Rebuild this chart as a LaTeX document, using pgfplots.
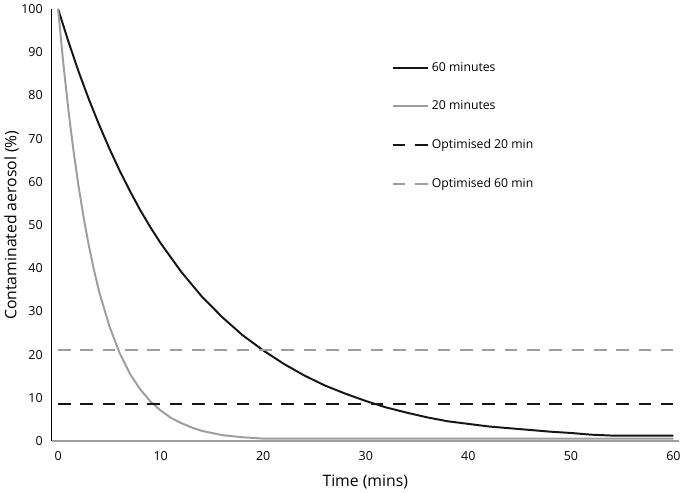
\documentclass[border=0pt]{standalone}
\usepackage{pgfplots}
\pgfplotsset{compat=1.18}
\usepackage{fontspec}
\setmainfont{Open Sans}
\definecolor{cblack}{RGB}{22,22,22}
\definecolor{cgray}{RGB}{158,158,158}
\begin{document}
\begin{tikzpicture}
\begin{axis}[
  scale only axis,
  width=477pt, height=329pt,
  xmin=-0.6, xmax=60.5, ymin=0, ymax=100,
  axis x line=bottom, axis y line=left,
  x axis line style={-, draw=cgray, line width=1.2pt},
  y axis line style={-, draw=black, line width=0.7pt},
  xtick={0,10,...,60}, ytick={0,10,...,100},
  major tick length=0pt,
  tick label style={font=\fontsize{9.5}{11}\selectfont},
  /pgf/number format/assume math mode=true,
  yticklabel style={xshift=-3.5pt},
  xticklabel style={yshift=-4pt},
  xlabel={Time (mins)}, ylabel={Contaminated aerosol (\%)},
  label style={font=\fontsize{12}{14}\selectfont},
  xlabel style={yshift=-4pt},
  ylabel style={yshift=-5pt},
  legend cell align=left,
  legend style={draw=none, fill=none, at={(0.542,0.883)}, anchor=north west,
    font=\fontsize{9.3}{11}\selectfont, row sep=17pt, inner sep=0pt},
  legend image code/.code={\draw[#1] (0cm,0cm) -- (0.95cm,0cm);},
]
\addplot[cblack, line width=1.5pt] coordinates {
(0,100) (1,92.5) (2,85.5) (3,79.1) (4,73.2) (5,67.7) (6,62.6) (7,57.9) (8,53.5) (9,49.5) (10,45.8)
(12,39.2) (14,33.5) (16,28.7) (18,24.5) (20,21.0) (22,17.9) (24,15.2) (26,12.9) (28,11.0)
(30,9.3) (32,7.8) (34,6.6) (36,5.5) (38,4.6) (40,4.0) (42,3.4) (44,3.0) (46,2.6) (48,2.2)
(50,1.9) (52,1.5) (54,1.3) (60,1.3)};
\addlegendentry{60 minutes}
\addplot[cgray, line width=1.5pt] coordinates {
(0,100) (0.5,87.6) (1,76.7) (1.5,67.2) (2,58.9) (2.5,51.6) (3,45.2) (3.5,39.6) (4,34.6) (5,26.6) (6,20.4) (7,15.6) (8,12.0)
(9,9.2) (10,7.1) (11,5.4) (12,4.2) (13,3.2) (14,2.4) (15,1.9) (16,1.4) (18,0.9) (20,0.6) (60,0.6)};
\addlegendentry{20 minutes}
\addplot[cblack, line width=1.5pt, dash pattern=on 9.5pt off 7.5pt] coordinates {(0,8.6) (60,8.6)};
\addlegendentry{Optimised 20 min}
\addplot[cgray, line width=1.5pt, dash pattern=on 9.5pt off 7.5pt] coordinates {(0,21) (60,21)};
\addlegendentry{Optimised 60 min}
\end{axis}
\end{tikzpicture}
\end{document}
